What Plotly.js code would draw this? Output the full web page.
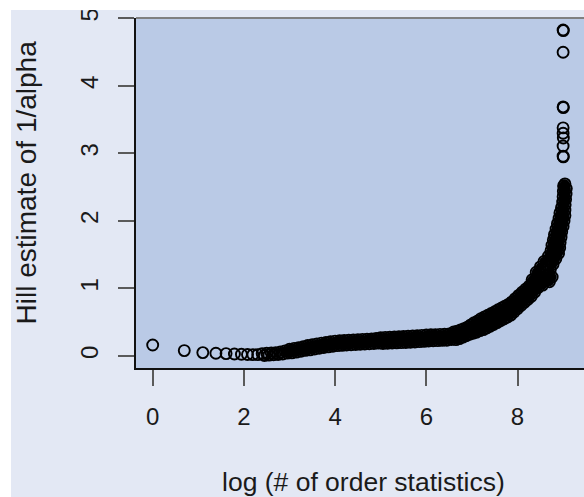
<!DOCTYPE html>
<html>
<head>
<meta charset="utf-8">
<script src="https://cdn.plot.ly/plotly-3.0.1.min.js"></script>
<style>
  html, body { margin: 0; padding: 0; background: #ffffff; width: 584px; height: 497px; overflow: hidden; }
  #chart { position: absolute; left: 11px; top: 0px; width: 573px; height: 497px; }
</style>
</head>
<body>
<div id="chart"></div>
<script>
// Hill plot: x = log(k) for k order statistics, y = Hill estimate of 1/alpha.

// first few order statistics, drawn as separate circles
const headX = [0, 0.693, 1.099, 1.386, 1.609, 1.792, 1.946, 2.079, 2.197, 2.303];
const headY = [0.163, 0.08, 0.05, 0.04, 0.035, 0.03, 0.025, 0.022, 0.02, 0.02];

// slowly rising flat stretch
const flatX = [
  2.40,2.45,2.50,2.55,2.60,2.65,2.70,2.75,2.80,2.85,
  2.90,2.95,3.00,3.05,3.10,3.15,3.20,3.25,3.30,3.35,
  3.40,3.45,3.50,3.55,3.60,3.65,3.70,3.75,3.80,3.85,
  3.90,3.95,4.00,4.05,4.10,4.15,4.20,4.25,4.30,4.35,
  4.40,4.45,4.50,4.55,4.60,4.65,4.70,4.75,4.80,4.85,
  4.90,4.95,5.00,5.05,5.10,5.15,5.20,5.25,5.30,5.35,
  5.40,5.45,5.50,5.55,5.60,5.65,5.70,5.75,5.80,5.85,
  5.90,5.95,6.00,6.05,6.10,6.15,6.20,6.25,6.30,6.35,
  6.40,6.45,6.50,6.55
];
const flatY = [
  .035,.007,.04,.013,.045,.018,.05,.023,.058,.03,
  .075,.043,.10,.046,.112,.058,.124,.07,.136,.083,
  .155,.091,.167,.103,.179,.115,.19,.125,.20,.135,
  .21,.145,.22,.153,.225,.157,.23,.162,.234,.166,
  .238,.17,.242,.174,.246,.178,.25,.182,.254,.186,
  .258,.19,.272,.184,.276,.188,.28,.192,.283,.195,
  .286,.198,.289,.20,.292,.203,.295,.207,.30,.212,
  .305,.217,.31,.222,.315,.226,.317,.228,.32,.231,
  .322,.233,.325,.245
];

// bend upwards
const riseX = [
  6.600,6.625,6.650,6.675,6.700,6.725,6.750,6.775,6.800,6.825,
  6.850,6.875,6.900,6.925,6.950,6.975,7.000,7.025,7.050,7.075,
  7.100,7.125,7.150,7.175,7.200,7.225,7.250,7.275,7.300,7.325,
  7.350,7.375,7.400,7.425,7.450,7.475,7.500,7.525,7.550,7.575,
  7.600,7.625,7.650,7.675,7.700,7.725,7.750,7.775,7.800,7.825,
  7.850,7.875,7.900,7.925,7.950,7.975,8.000,8.025,8.050,8.075,
  8.100,8.125,8.150,8.175,8.200,8.225,8.250,8.275,8.300,8.325,
  8.350,8.375,8.400,8.425,8.450,8.475,8.500
];
const riseY = [
  .355,.299,.243,.366,.31,.257,.384,.332,.279,.406,
  .353,.30,.428,.375,.322,.46,.398,.336,.494,.423,
  .351,.519,.447,.376,.554,.472,.39,.579,.497,.415,
  .603,.522,.44,.629,.548,.467,.656,.575,.495,.684,
  .603,.522,.711,.63,.549,.738,.657,.576,.765,.684,
  .605,.801,.727,.653,.849,.775,.701,.897,.823,.749,
  .944,.869,.794,.988,.913,.838,1.033,.957,.882,1.083,
  1.013,.944,1.145,1.075,1.01,1.223,1.165
];

// near-vertical end of the curve
const steepX = [
  8.68,8.41,8.72,8.50,8.78,8.58,8.84,8.68,8.90,8.735,
  8.925,8.755,8.935,8.785,8.955,8.81,8.97,8.845,9.0,8.875,
  9.02,8.91,9.04,8.93,9.04,8.965,9.045,8.99,9.055,9.0,
  9.065,9.005,9.07,9.01,9.04,
  8.32,8.62,8.76,8.55,8.70
];
const steepY = [
  1.20,1.24,1.28,1.32,1.36,1.40,1.44,1.48,1.52,1.56,
  1.60,1.64,1.68,1.72,1.76,1.80,1.84,1.88,1.92,1.96,
  2.00,2.04,2.08,2.12,2.16,2.20,2.24,2.28,2.32,2.36,
  2.40,2.44,2.48,2.52,2.55,
  1.13,1.12,1.17,1.05,1.10
];

// largest order statistics, standing apart at the top
const tailX = [9.0, 9.005, 9.0, 9.0, 9.005, 9.0, 9.0, 9.005, 9.0, 9.0, 9.005];
const tailY = [4.83, 4.82, 4.50, 3.69, 3.68, 3.38, 3.30, 3.23, 3.11, 2.96, 2.95];

const xTicks = [0, 2, 4, 6, 8];
const yTicks = [0, 1, 2, 3, 4, 5];
const xTitle = 'log (# of order statistics)';
const yTitle = 'Hill estimate of 1/alpha';

const hillX = [].concat(headX, flatX, riseX, steepX, tailX);
const hillY = [].concat(headY, flatY, riseY, steepY, tailY);

// where the circles crowd together (from x = 2.9 on) they merge into a solid band
const denseStart = flatX.indexOf(2.90);
const bandX = [].concat(flatX.slice(denseStart), riseX, steepX);
const bandY = [].concat(flatY.slice(denseStart), riseY, steepY);

const font = 'Liberation Sans, Arial, Helvetica, sans-serif';
const ink = '#1a1a1a';

const bandFill = {
  type: 'scatter',
  mode: 'markers',
  x: bandX,
  y: bandY,
  marker: { symbol: 'circle', size: 9, color: '#000000', line: { width: 0 } },
  hoverinfo: 'skip'
};

const points = {
  type: 'scatter',
  mode: 'markers',
  x: hillX,
  y: hillY,
  marker: {
    symbol: 'circle-open',
    size: 11,
    color: '#000000',
    line: { width: 1.9, color: '#000000' }
  },
  hoverinfo: 'skip'
};

const axisCommon = {
  showgrid: false,
  zeroline: false,
  showline: true,
  linecolor: '#111111',
  linewidth: 2,
  ticks: 'outside',
  ticklen: 16,
  tickwidth: 2,
  tickcolor: '#5a5a5a',
  tickfont: { family: font, size: 24, color: ink },
  ticklabeloverflow: 'allow',
  fixedrange: true
};

// plot area spans 350 px vertically; the white band above the figure starts 8 px over it
const topStrip = 1 + 8 / 350;

const layout = {
  width: 573,
  height: 497,
  margin: { l: 125, r: 0, t: 18, b: 129, pad: 0 },
  paper_bgcolor: '#e3e8f4',
  plot_bgcolor: '#bacae6',
  showlegend: false,
  font: { family: font, color: ink },
  xaxis: Object.assign({}, axisCommon, {
    range: [-0.366, 9.458],
    tickmode: 'array',
    tickvals: xTicks,
    ticktext: xTicks.map(String),
    ticklabelstandoff: 10
  }),
  yaxis: Object.assign({}, axisCommon, {
    range: [-0.178, 5.007],
    tickmode: 'array',
    tickvals: yTicks,
    ticktext: yTicks.map(String),
    tickangle: -90,
    ticklabelstandoff: 10
  }),
  shapes: [
    { type: 'line', xref: 'paper', yref: 'paper', x0: 0, x1: 1, y0: 1, y1: 1,
      line: { color: '#808080', width: 2 } },
    { type: 'rect', xref: 'paper', yref: 'paper', x0: -0.5, x1: 1.5, y0: topStrip, y1: 1.2,
      fillcolor: '#ffffff', line: { width: 0 }, layer: 'above' }
  ],
  annotations: [
    { text: xTitle, xref: 'paper', yref: 'paper', x: 0.507, y: -0.326,
      xanchor: 'center', yanchor: 'middle', showarrow: false,
      font: { family: font, size: 26.5, color: ink } },
    { text: yTitle, xref: 'paper', yref: 'paper', x: -0.2455, y: 0.530,
      xanchor: 'center', yanchor: 'middle', showarrow: false, textangle: -90,
      font: { family: font, size: 28, color: ink } }
  ]
};

Plotly.newPlot('chart', [bandFill, points], layout, { displayModeBar: false, staticPlot: true });
</script>
</body>
</html>
